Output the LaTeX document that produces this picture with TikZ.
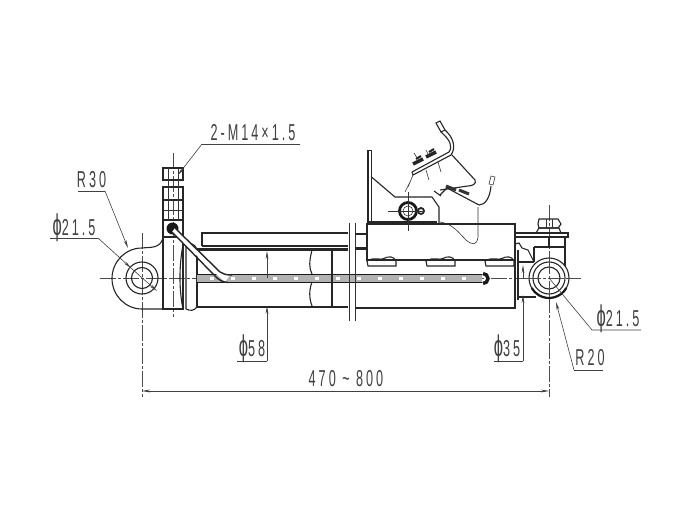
\documentclass[tikz,border=0pt]{standalone}
\usepackage{fontspec}
\usetikzlibrary{arrows.meta}
\newfontfamily\dimfont[FakeStretch=0.55,LetterSpace=13]{Liberation Sans}
\newcommand{\dia}{{\fontsize{30}{30}\selectfont ϕ}}
\tikzset{
  outline/.style={line width=1.1pt,black!85},
  thin/.style={line width=0.6pt,black!80},
  heavy/.style={line width=2.6pt,black!85},
  centre/.style={line width=0.6pt,black!70,dash pattern=on 16pt off 2pt on 3pt off 2pt},
  dimline/.style={line width=0.6pt,black!75},
  tip/.style={-{Stealth[length=8pt,width=2.8pt]}},
  dimtext/.style={font=\dimfont\fontsize{23}{23}\selectfont,text=black!75,inner sep=0pt}
}
\begin{document}
\begin{tikzpicture}[x=1pt,y=-1pt]
  \useasboundingbox (0,0) rectangle (681,511);
  \fill[white] (0,0) rectangle (681,511);
  \coordinate (lefteye) at (142,278);
  \coordinate (righteye) at (549,278);
  \draw[centre] (100,278) -- (581,278);
  \draw[centre] (142,233) -- (142,397);
  \draw[centre] (173,153) -- (173,317);
  \draw[centre] (549,205) -- (549,397);
  \draw[outline] (163,309) -- (142,309) arc (90:270:30 and 30.5)
    .. controls (150,247) and (160,249) .. (163,238);
  \draw[outline] (lefteye) circle (16);
  \draw[outline] (lefteye) circle (10.5);
  \draw[outline] (163,220) rectangle (183,309);
  \draw[outline] (163,237) -- (183,237);
  \fill[black!90] (172.5,228.5) circle (6);
  \draw[outline] (163,168) rectangle (183,180);
  \draw[outline] (163,187) rectangle (183,200);
  \draw[outline] (163,200) rectangle (183,220);
  \draw[thin] (163,210) -- (183,210);
  \draw[thin] (168,168) -- (168,220) (178,168) -- (178,220);
  \draw[outline] (183,245) .. controls (179,265) and (179,290) .. (183,309);
  \draw[outline] (186,245) -- (186,309) (186,245) .. controls (190,243) and (194,243) .. (197,249)
    (186,309) .. controls (190,311) and (194,311) .. (197,307);
  \draw[outline] (197,249) -- (197,307);
  \draw[outline] (202,246) -- (202,233) -- (348,233) (202,246) -- (348,246);
  \draw[heavy] (197,249.5) -- (348,249.5);
  \draw[heavy] (197,307) -- (348,307);
  \fill[black!30] (197,275) rectangle (482,282);
  \draw[line width=1.7pt,black!90] (197,274.5) -- (482,274.5) (197,282.5) -- (482,282.5);
  \draw[white,line width=2.8pt,dash pattern=on 4pt off 17pt] (210,278.5) -- (482,278.5);
  \draw[outline] (312,250) .. controls (309,262) and (309,268) .. (312,274);
  \draw[outline] (312,282) .. controls (309,290) and (309,298) .. (312,306);
  \draw[line width=1.4pt,black!85] (332,249) -- (332,308);
  \fill[white] (175,228) -- (220,272) -- (230,275) -- (225,282) -- (215,273) -- (172,232) -- cycle;
  \draw[line width=1.4pt,black!85] (175,228) -- (220,272) .. controls (223,274) and (226,275) .. (232,275);
  \draw[line width=1.4pt,black!85] (172,232) -- (215,276) .. controls (219,280) and (222,282) .. (228,282.5);
  \draw[line width=3.4pt,black!90] (483,273.5) arc (-90:90:5);
  \draw[thin] (349,223) -- (349,321) (355,223) -- (355,321);
  \draw[outline] (355,234) -- (367,234);
  \draw[heavy] (355,248.5) -- (367,248.5);
  \draw[outline] (355,308) -- (515,308) -- (515,224) -- (367,224) -- (367,260) -- (515,260);
  \foreach \bx in {368,427,486}
    \draw[outline] (\bx,266) -- ++(-1,-5) .. controls (\bx+8,256) and (\bx+12,261) .. (\bx+16,258.5)
      .. controls (\bx+20,256) and (\bx+26,256) .. (\bx+28,261) -- (\bx+28,266) -- cycle;
  \draw[outline] (368,150.5) rectangle (371.5,222);
  \draw[outline] (371.5,177) -- (395,197) -- (432,197) -- (439,207) -- (439,223);
  \draw[outline] (372,224) -- (372,222) -- (436,222) -- (436,224);
  \draw[line width=2.8pt,black!90] (408,211) circle (8.5);
  \draw[thin] (408,211) circle (5);
  \draw[line width=1.8pt,black!85] (421,211) circle (3);
  \draw[thin] (408,192) -- (408,231) (388,211) -- (424,211);
  \draw[outline] (436,123) -- (440,121) -- (445,130) -- (441,132) -- cycle;
  \draw[outline] (441,132) .. controls (450,140) and (453,146) .. (449,152) -- (412,172);
  \draw[outline] (445,130) .. controls (454,138) and (456,148) .. (451,155) -- (413,175) -- (412,172);
  \foreach \px/\py in {418/162,431/155}{
    \draw[line width=3.4pt,black!85] (\px-5,\py+2) -- (\px+5,\py-3);
    \draw[line width=2pt,black!85] (\px-2,\py-3) -- (\px+3,\py-6);
  }
  \draw[thin] (426,170) -- (429,180) (438,162) -- (441,172) (426,150) -- (429,156) (414,153) -- (417,158);
  \draw[outline] (452,155) -- (475,180) .. controls (477,184) and (472,186) .. (468,186) -- (440,190);
  \draw[thin] (413,175) -- (408,187) (411,180) -- (405,192);
  \draw[outline] (434,191) -- (441,196) (440,195) -- (447,188) -- (479,205);
  \foreach \px/\py in {451/188,464/192}
    \draw[line width=3pt,black!80] (\px-5,\py-2) -- (\px+5,\py+2);
  \draw[outline] (479,205) .. controls (485,205) and (490,198) .. (491,186);
  \draw[thin] (491,176) -- (495,177) -- (493,185) -- (489,184) -- cycle;
  \draw[thin] (478,207) -- (478,237) .. controls (477,246) and (472,245) .. (466,240)
    .. controls (458,232) and (453,224) .. (440,222);
  \draw[outline] (515,233) -- (568,233) -- (568,237) -- (515,237);
  \draw[outline] (539,228) -- (559,228) -- (561,233) -- (536,233) -- cycle;
  \draw[outline] (539,219) -- (558,219) -- (561,224) -- (558,228) -- (539,228) -- (538,224) -- cycle;
  \draw[thin] (546,219) -- (546,228) (552,219) -- (552,228);
  \draw[outline] (534,247) -- (534,262) (565,237) -- (565,268) (549,237) -- (549,247) -- (534,247) -- (565,247);
  \draw[outline] (515,244) -- (519,243) -- (522,248) -- (528,250) -- (534,262);
  \draw[outline] (519,262) -- (534,262) (519,297) -- (536,297);
  \fill[white] (righteye) circle (20);
  \draw[outline] (righteye) circle (20);
  \draw[outline] (righteye) circle (16);
  \draw[outline] (righteye) circle (11);
  \draw[line width=2.2pt,black!90] (righteye) ++(30:20) arc (30:150:20);
  \draw[centre] (525,278) -- (581,278);
  \draw[centre] (549,258) -- (549,298);
  \draw[line width=2.6pt,black!85] (518,250) -- (518,300);
  \draw[outline] (515,224) -- (515,308);
  \node[dimtext] (labelM) at (253,133) {2-M14×1.5};
  \node[dimtext] (labelRa) at (91.5,180) {R30};
  \node[dimtext] (labelDa) at (74,228) {\dia21.5};
  \node[dimtext] (labelDb) at (252,349) {\dia58};
  \node[dimtext] (labelLen) at (346,379) {470 \char`\~{} 800};
  \node[dimtext] (labelDc) at (507,349) {\dia35};
  \node[dimtext] (labelRb) at (590,358) {R20};
  \node[dimtext] (labelDd) at (618,319) {\dia21.5};
  \coordinate (studtip) at (178,175);
  \coordinate (lugtip) at (128,248);
  \coordinate (holetip) at (131,268);
  \coordinate (holeend) at (157,291);
  \coordinate (boretop) at (267,251);
  \coordinate (borelow) at (267,306);
  \coordinate (rodtop) at (523,265);
  \coordinate (rodlow) at (523,295);
  \coordinate (eyetip) at (556,302);
  \draw[dimline] (300,144) -- (202,144);
  \draw[dimline,tip] (202,144) -- (studtip);
  \draw[dimline] (78,191) -- (105,191);
  \draw[dimline,tip] (105,191) -- (lugtip);
  \draw[dimline] (50,238) -- (98,238);
  \draw[dimline,tip] (98,238) -- (holetip);
  \draw[dimline,tip] (holetip) -- (holeend);
  \draw[dimline] (237,361) -- (267,361);
  \draw[dimline,tip] (267,278) -- (boretop);
  \draw[dimline,tip] (267,361) -- (borelow);
  \draw[dimline] (494,361) -- (523,361);
  \draw[dimline,tip] (523,361) -- (rodlow);
  \draw[dimline,tip] (523,278) -- (rodtop);
  \draw[dimline] (603,370) -- (574,370);
  \draw[dimline,tip] (574,370) -- (eyetip);
  \draw[dimline] (641,330) -- (592,330) -- (righteye);
  \draw[dimline,{Stealth[length=8pt,width=2.8pt]}-{Stealth[length=8pt,width=2.8pt]}] (142,391) -- (549,391);
\end{tikzpicture}
\end{document}
